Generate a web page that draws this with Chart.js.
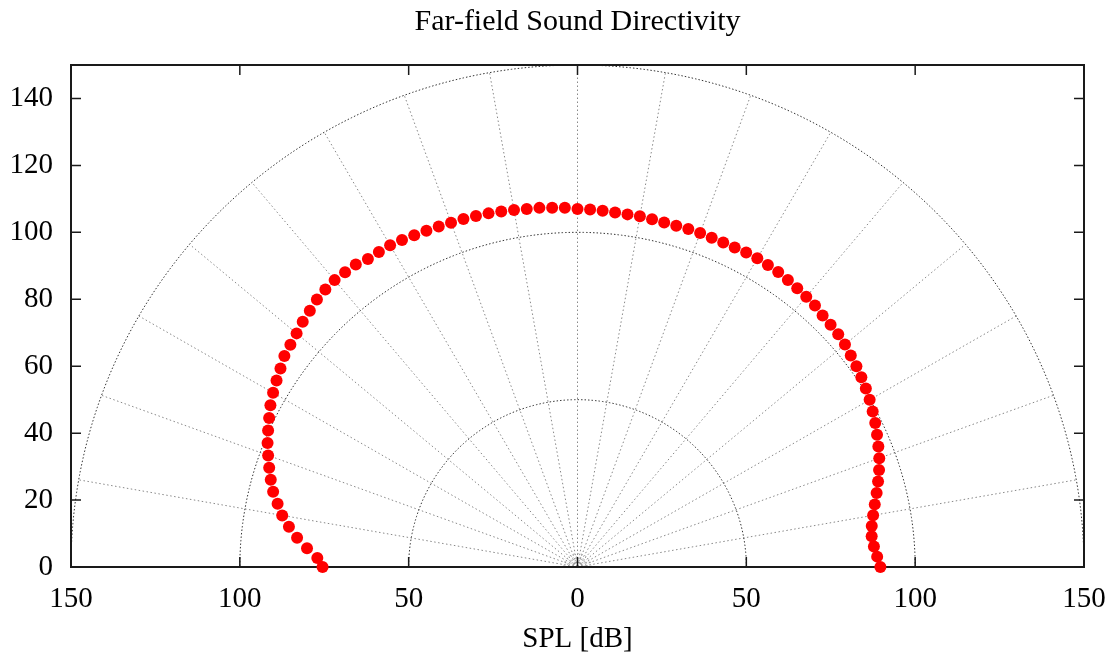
<!DOCTYPE html>
<html>
<head>
<meta charset="utf-8">
<script src="https://cdn.jsdelivr.net/npm/chart.js@4.4.1/dist/chart.umd.min.js"></script>
<style>
  html, body { margin: 0; padding: 0; background: #fff; }
  #wrap { width: 1110px; height: 657px; }
</style>
</head>
<body>
<div id="wrap"><canvas id="myChart"></canvas></div>
<script>
// polar data: angle in degrees, SPL in dB (radius)
const angleDeg = [0, 2, 4, 6, 8, 10, 12, 14, 16, 18, 20, 22, 24, 26, 28, 30, 32, 34, 36, 38,
  40, 42, 44, 46, 48, 50, 52, 54, 56, 58, 60, 62, 64, 66, 68, 70, 72, 74, 76, 78,
  80, 82, 84, 86, 88, 90, 92, 94, 96, 98, 100, 102, 104, 106, 108, 110, 112, 114, 116, 118,
  120, 122, 124, 126, 128, 130, 132, 134, 136, 138, 140, 142, 144, 146, 148, 150, 152, 154, 156, 158,
  160, 162, 164, 166, 168, 170, 172, 174, 176, 178, 180];
const splDb = [89.7, 88.8, 88.0, 87.6, 88.0, 88.9, 90.0, 91.3, 92.6, 93.9, 95.1, 96.1, 97.1, 98.1, 99.0, 99.9, 100.7, 101.4, 102.1, 102.7,
  103.4, 103.9, 104.2, 104.5, 105.1, 105.4, 105.7, 106.0, 106.3, 106.4, 106.5, 106.4, 106.2, 106.1, 106.1, 106.2, 106.2, 106.1, 106.1, 106.2,
  106.4, 106.4, 106.5, 106.7, 106.9, 107.0, 107.4, 107.6, 107.9, 108.0, 108.3, 108.6, 108.9, 109.1, 109.3, 109.5, 109.7, 110.0, 110.3, 110.7,
  111.0, 111.0, 111.0, 111.7, 111.8, 111.9, 111.6, 111.1, 110.2, 109.5, 108.6, 107.9, 107.3, 106.1, 105.1, 104.1, 103.0, 101.6, 100.3, 99.0,
  97.5, 96.0, 94.5, 92.9, 90.8, 88.8, 86.3, 83.5, 80.3, 77.1, 75.5];

const xTickValues = [-150, -100, -50, 0, 50, 100, 150];
const yTickValues = [0, 20, 40, 60, 80, 100, 120, 140];
const ringRadii = [50, 100, 150];
const innerRadii = [2, 3, 4];
const spokeAngles = [0, 10, 20, 30, 40, 50, 60, 70, 80, 90, 100, 110, 120, 130, 140, 150, 160, 170, 180];

const points = angleDeg.map((a, i) => {
  const t = a * Math.PI / 180;
  return { x: splDb[i] * Math.cos(t), y: splDb[i] * Math.sin(t) };
});

const serif = "'Liberation Serif', 'DejaVu Serif', serif";

const polarGrid = {
  id: 'polarGrid',
  beforeDatasetsDraw(chart) {
    const { ctx, chartArea: a, scales: { x, y } } = chart;
    const px = v => x.getPixelForValue(v);
    const py = v => y.getPixelForValue(v);
    ctx.save();
    ctx.lineWidth = 1;

    // spokes
    ctx.setLineDash([1.5, 2.5]);
    ctx.strokeStyle = '#888';
    spokeAngles.forEach(d => {
      const t = d * Math.PI / 180;
      ctx.beginPath();
      ctx.moveTo(px(0), py(0));
      ctx.lineTo(px(150 * Math.cos(t)), py(150 * Math.sin(t)));
      ctx.stroke();
    });

    // tiny rings near the origin
    ctx.strokeStyle = '#999';
    innerRadii.forEach(r => {
      ctx.beginPath();
      for (let d = 0; d <= 180; d += 5) {
        const t = d * Math.PI / 180;
        const X = px(r * Math.cos(t)), Y = py(r * Math.sin(t));
        if (d === 0) ctx.moveTo(X, Y); else ctx.lineTo(X, Y);
      }
      ctx.stroke();
    });

    // rings
    ctx.strokeStyle = '#333';
    ctx.setLineDash([1.5, 2]);
    ringRadii.forEach(r => {
      ctx.beginPath();
      for (let d = 0; d <= 180; d += 0.5) {
        const t = d * Math.PI / 180;
        const X = px(r * Math.cos(t)), Y = py(r * Math.sin(t));
        if (d === 0) ctx.moveTo(X, Y); else ctx.lineTo(X, Y);
      }
      ctx.stroke();
    });

    // frame
    ctx.setLineDash([]);
    ctx.strokeStyle = '#1a1a1a';
    ctx.lineWidth = 2;
    ctx.strokeRect(a.left, a.top, a.right - a.left, a.bottom - a.top);

    // inward ticks
    ctx.lineWidth = 1.5;
    const len = 10;
    ctx.beginPath();
    xTickValues.forEach(v => {
      const X = px(v);
      ctx.moveTo(X, a.bottom); ctx.lineTo(X, a.bottom - len);
      ctx.moveTo(X, a.top); ctx.lineTo(X, a.top + len);
    });
    yTickValues.forEach(v => {
      const Y = py(v);
      ctx.moveTo(a.left, Y); ctx.lineTo(a.left + len, Y);
      ctx.moveTo(a.right, Y); ctx.lineTo(a.right - len, Y);
    });
    ctx.stroke();
    ctx.restore();
  }
};

const ctx = document.getElementById('myChart').getContext('2d');
const myChart = new Chart(ctx, {
  type: 'scatter',
  data: {
    datasets: [{
      label: 'SPL',
      data: points,
      pointRadius: 6,
      pointHoverRadius: 6,
      pointBackgroundColor: '#ff0000',
      pointBorderWidth: 0,
      showLine: false,
      clip: false
    }]
  },
  options: {
    responsive: true,
    maintainAspectRatio: false,
    animation: false,
    layout: { padding: { left: 0, right: 26, top: 0, bottom: 0 } },
    plugins: {
      legend: { display: false },
      tooltip: { enabled: false },
      title: {
        display: true,
        fullSize: false,
        text: 'Far-field Sound Directivity',
        color: '#000',
        font: { family: serif, size: 30, weight: 'normal' },
        padding: { top: 4, bottom: 25 }
      }
    },
    scales: {
      x: {
        type: 'linear',
        min: -150,
        max: 150,
        afterBuildTicks: s => { s.ticks = xTickValues.map(v => ({ value: v })); },
        afterFit: s => { s.height = 90; s.paddingLeft = 0; s.paddingRight = 0; },
        grid: { display: false, drawTicks: false },
        border: { display: false },
        ticks: {
          color: '#000',
          padding: 15,
          maxRotation: 0,
          font: { family: serif, size: 29 },
          callback: v => String(Math.abs(v))
        },
        title: {
          display: true,
          text: 'SPL [dB]',
          color: '#000',
          font: { family: serif, size: 29 },
          padding: { top: 10, bottom: 0 }
        }
      },
      y: {
        type: 'linear',
        min: 0,
        max: 150,
        afterBuildTicks: s => { s.ticks = yTickValues.map(v => ({ value: v })); },
        afterFit: s => { s.width = 71; s.paddingTop = 0; s.paddingBottom = 0; },
        grid: { display: false, drawTicks: false },
        border: { display: false },
        ticks: {
          color: '#000',
          padding: 18,
          font: { family: serif, size: 29 }
        }
      }
    }
  },
  plugins: [polarGrid]
});
</script>
</body>
</html>
